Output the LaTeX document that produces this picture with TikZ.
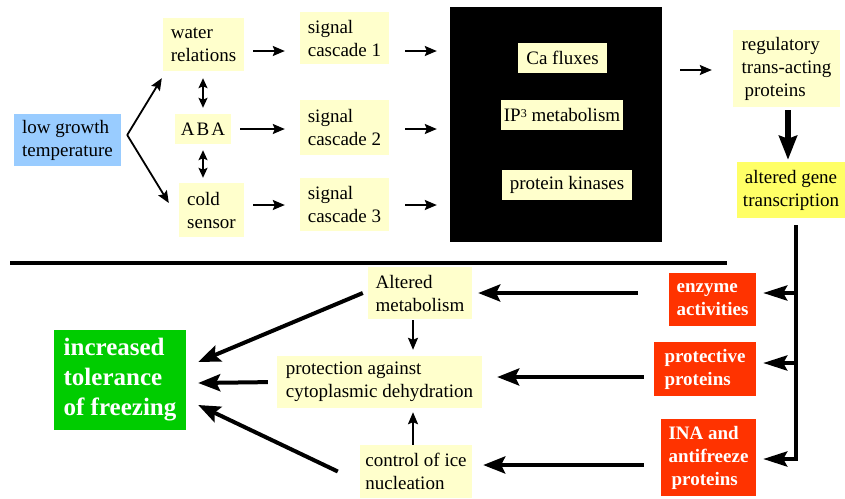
\documentclass[tikz,border=0pt]{standalone}
\usepackage{fontspec}
\setmainfont{Liberation Serif}
\usetikzlibrary{arrows.meta}
\definecolor{paleyel}{RGB}{255,255,204}
\definecolor{geneyel}{RGB}{255,255,102}
\definecolor{lowblue}{RGB}{153,204,255}
\definecolor{redbox}{RGB}{255,51,0}
\definecolor{greenbox}{RGB}{0,204,0}

\begin{document}
\begin{tikzpicture}[x=1pt,y=1pt,yscale=-1,xscale=1,
  box/.style={inner sep=0pt,align=left,font=\fontsize{19}{23}\selectfont},
  ybox/.style={box,fill=paleyel},
  rbox/.style={box,fill=redbox,text=white,font=\fontsize{19}{23}\selectfont\bfseries},
  arr/.style={line width=1.8,-{Stealth[length=12,width=10,inset=2]}},
  dbl/.style={line width=1.8,{Stealth[length=10,width=9,inset=2]}-{Stealth[length=10,width=9,inset=2]}},
  big/.style={line width=4,-{Stealth[length=22,width=17,inset=4]}},
  side/.style={line width=4,-{Stealth[length=24,width=15,inset=4]}}]
\useasboundingbox (0,0) rectangle (845,498);

%Top row: signals
\node [box,fill=lowblue,minimum width=107,minimum height=52] (low) at (67.5,140) {low growth\\temperature};
\node [ybox,minimum width=81,minimum height=53] (water) at (203.5,44.5) {water\\relations};
\node [ybox,minimum width=56,minimum height=30] (aba) at (203,129) {A\kern2pt B\kern2pt A};
\node [ybox,minimum width=65,minimum height=54] (cold) at (211.5,210) {cold\\sensor};
\node [ybox,minimum width=89,minimum height=52] (cas1) at (344.5,38) {signal\\cascade 1};
\node [ybox,minimum width=89,minimum height=55] (cas2) at (344.5,127.5) {signal\\cascade 2};
\node [ybox,minimum width=89,minimum height=53] (cas3) at (344.5,204.5) {signal\\cascade 3};

%Black box with second messengers
\node [fill=black,minimum width=212,minimum height=235,inner sep=0pt] (msg) at (556,124.5) {};
\node [ybox,minimum width=89,minimum height=30] (ca) at (562.5,58) {Ca fluxes};
\node [ybox,minimum width=122,minimum height=30] (ip) at (562,115) {IP\raisebox{4.5pt}{\fontsize{12}{12}\selectfont 3} metabolism};
\node [ybox,minimum width=130,minimum height=30] (kin) at (567,185) {protein kinases};

\node [ybox,minimum width=107,minimum height=77] (reg) at (786.5,68.5) {regulatory\\trans-acting\\\hspace{3pt}proteins};
\node [box,fill=geneyel,minimum width=108,minimum height=56,align=center] (gene) at (791,190) {altered gene\\transcription};

%Bottom row: responses
\node [rbox,minimum width=87,minimum height=53] (enz) at (712.5,299.5) {enzyme\\activities};
\node [rbox,minimum width=102,minimum height=54] (prot) at (705,369) {protective\\proteins};
\node [rbox,minimum width=95,minimum height=77] (ina) at (708.5,457.5) {INA and\\antifreeze\\\hspace{3pt}proteins};
\node [ybox,minimum width=104,minimum height=52] (met) at (420,293) {Altered\\metabolism};
\node [ybox,minimum width=205,minimum height=52] (dehyd) at (379.5,382) {protection against\\cytoplasmic dehydration};
\node [ybox,minimum width=112,minimum height=53] (ice) at (416,471.5) {control of ice\\nucleation};
\node [box,fill=greenbox,text=white,minimum width=132,minimum height=100,font=\fontsize{25}{30}\selectfont\bfseries] (frz) at (120,380) {increased\\tolerance\\of freezing};

%Separator
\draw [line width=4] (10,263) -- (727,263);

%Top connectors
\coordinate (fork) at ([xshift=6,yshift=-5]low.east);
\draw [arr] (fork) -- ([xshift=-1,yshift=7]water.south west);
\draw [arr] (fork) -- ([xshift=-10,yshift=-7]cold.west);
\draw [dbl,shorten <=7,shorten >=6] (aba.north |- water.south) -- (aba.north);
\draw [dbl,shorten <=6,shorten >=5] (aba.south) -- (aba.south |- cold.north);
\draw [arr,shorten <=9,shorten >=15] (water.east |- 0,51) -- (cas1.west |- 0,51);
\draw [arr,shorten <=9,shorten >=15] (aba.east |- 0,129) -- (cas2.west |- 0,129);
\draw [arr,shorten <=9,shorten >=15] (cold.east |- 0,205) -- (cas3.west |- 0,205);
\draw [arr,shorten <=16,shorten >=13] (cas1.east |- 0,51) -- (msg.west |- 0,51);
\draw [arr,shorten <=16,shorten >=13] (cas2.east |- 0,129) -- (msg.west |- 0,129);
\draw [arr,shorten <=16,shorten >=13] (cas3.east |- 0,205) -- (msg.west |- 0,205);
\draw [arr,shorten <=18,shorten >=21] (msg.east |- 0,70) -- (reg.west |- 0,70);
\draw [line width=6,-{Stealth[length=24,width=18,inset=3]},shorten <=3,shorten >=2] (reg.south -| 788,0) -- (gene.north -| 788,0);

%Trunk to the responses
\coordinate (tr) at ([xshift=5,yshift=7]gene.south);
\draw [side,shorten >=7] (tr) |- (ina.east |- 0,459);
\draw [side,shorten >=7] (tr |- 0,293) -- (enz.east |- 0,293);
\draw [side,shorten >=7] (tr |- 0,363) -- (prot.east |- 0,363);

%Bottom connectors
\draw [big,shorten <=31,shorten >=6] (enz.west |- met.east) -- (met.east);
\draw [big,shorten <=10,shorten >=15] (prot.west |- 0,377) -- (dehyd.east |- 0,377);
\draw [big,shorten <=17,shorten >=11] (ina.west |- 0,465) -- (ice.east |- 0,465);
\draw [arr,shorten <=1,shorten >=6] ([xshift=-7]met.south) -- ([xshift=-7]met.south |- dehyd.north);
\draw [arr,shorten >=4] ([xshift=-3]ice.north) -- ([xshift=-3]ice.north |- dehyd.south);
\draw [big] ([xshift=-5]met.west) -- ([xshift=12,yshift=-18]frz.east);
\draw [big,shorten <=9] (dehyd.west) -- ([xshift=12,yshift=3]frz.east);
\draw [big] ([xshift=-22]ice.west) -- ([xshift=12,yshift=25]frz.east);

\end{tikzpicture}
\end{document}
